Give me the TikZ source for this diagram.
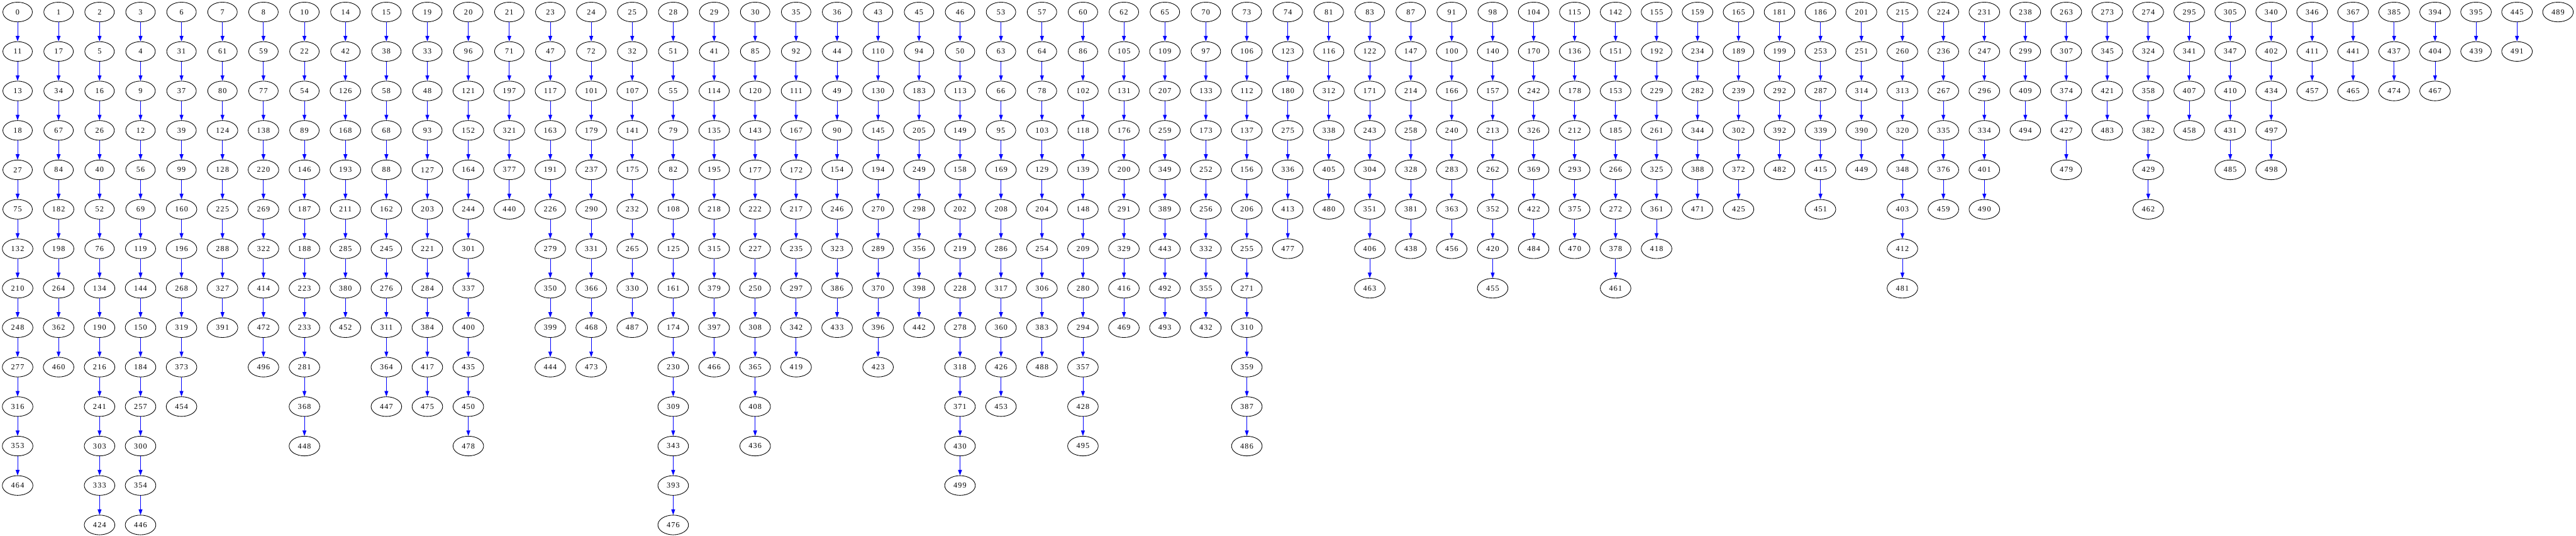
\documentclass[tikz,border=0pt]{standalone}
\usepackage{fontspec}
\newfontfamily\vtxfont{Liberation Serif}[LetterSpace=10]
\usetikzlibrary{arrows.meta,shapes.geometric}
\tikzset{
  vtx/.style={draw=black, line width=1pt, ellipse, minimum width=54pt, minimum height=36pt,
    inner xsep=7.9pt, inner ysep=0pt, font=\vtxfont\fontsize{14pt}{16pt}\selectfont},
  link/.style={draw=blue, line width=1pt, -{Triangle[length=10pt,width=7pt]}}
}
\begin{document}
\begin{tikzpicture}[x=75pt, y=72.2pt]
  \useasboundingbox (-32.25pt,22pt) rectangle (4683pt,-958.25pt);
  \foreach \chain [count=\c from 0] in {
    {0,11,13,18,27,75,132,210,248,277,316,353,464},
    {1,17,34,67,84,182,198,264,362,460},
    {2,5,16,26,40,52,76,134,190,216,241,303,333,424},
    {3,4,9,12,56,69,119,144,150,184,257,300,354,446},
    {6,31,37,39,99,160,196,268,319,373,454},
    {7,61,80,124,128,225,288,327,391},
    {8,59,77,138,220,269,322,414,472,496},
    {10,22,54,89,146,187,188,223,233,281,368,448},
    {14,42,126,168,193,211,285,380,452},
    {15,38,58,68,88,162,245,276,311,364,447},
    {19,33,48,93,127,203,221,284,384,417,475},
    {20,96,121,152,164,244,301,337,400,435,450,478},
    {21,71,197,321,377,440},
    {23,47,117,163,191,226,279,350,399,444},
    {24,72,101,179,237,290,331,366,468,473},
    {25,32,107,141,175,232,265,330,487},
    {28,51,55,79,82,108,125,161,174,230,309,343,393,476},
    {29,41,114,135,195,218,315,379,397,466},
    {30,85,120,143,177,222,227,250,308,365,408,436},
    {35,92,111,167,172,217,235,297,342,419},
    {36,44,49,90,154,246,323,386,433},
    {43,110,130,145,194,270,289,370,396,423},
    {45,94,183,205,249,298,356,398,442},
    {46,50,113,149,158,202,219,228,278,318,371,430,499},
    {53,63,66,95,169,208,286,317,360,426,453},
    {57,64,78,103,129,204,254,306,383,488},
    {60,86,102,118,139,148,209,280,294,357,428,495},
    {62,105,131,176,200,291,329,416,469},
    {65,109,207,259,349,389,443,492,493},
    {70,97,133,173,252,256,332,355,432},
    {73,106,112,137,156,206,255,271,310,359,387,486},
    {74,123,180,275,336,413,477},
    {81,116,312,338,405,480},
    {83,122,171,243,304,351,406,463},
    {87,147,214,258,328,381,438},
    {91,100,166,240,283,363,456},
    {98,140,157,213,262,352,420,455},
    {104,170,242,326,369,422,484},
    {115,136,178,212,293,375,470},
    {142,151,153,185,266,272,378,461},
    {155,192,229,261,325,361,418},
    {159,234,282,344,388,471},
    {165,189,239,302,372,425},
    {181,199,292,392,482},
    {186,253,287,339,415,451},
    {201,251,314,390,449},
    {215,260,313,320,348,403,412,481},
    {224,236,267,335,376,459},
    {231,247,296,334,401,490},
    {238,299,409,494},
    {263,307,374,427,479},
    {273,345,421,483},
    {274,324,358,382,429,462},
    {295,341,407,458},
    {305,347,410,431,485},
    {340,402,434,497,498},
    {346,411,457},
    {367,441,465},
    {385,437,474},
    {394,404,467},
    {395,439},
    {445,491},
    {489}} {
    \foreach \v [count=\r from 0, remember=\v as \u (initially 0)] in \chain {
      \node[vtx] (n\v) at (\c,-\r) {\v};
      \ifnum\r>0 \draw[link] (n\u) -- (n\v); \fi
    }
  }
\end{tikzpicture}
\end{document}
